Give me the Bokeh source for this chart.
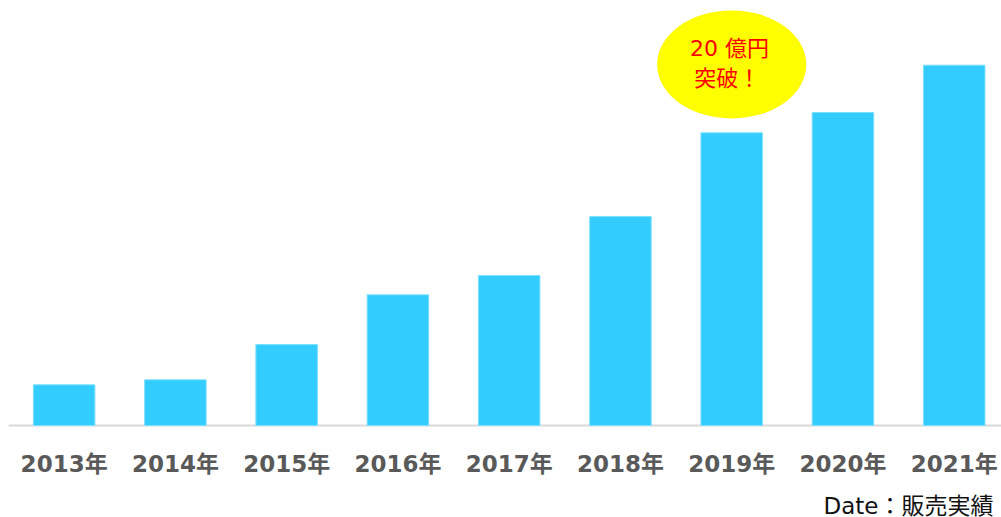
from bokeh.plotting import figure
from bokeh.models import Range1d, Label, ColumnDataSource, Span
from bokeh.core.properties import value
from bokeh.embed import file_html
from bokeh.resources import INLINE

# data (sales, 億円)
years = ["2013年", "2014年", "2015年", "2016年", "2017年", "2018年", "2019年", "2020年", "2021年"]
sales = [2.85, 3.2, 5.67, 9.15, 10.5, 14.64, 20.5, 21.92, 25.23]
callout_lines = ["20 億円", "突破！"]
callout_year = "2019年"
source_note = "Date：販売実績"

FONT = "'DejaVu Sans', 'Noto Sans CJK JP', sans-serif"

idx = list(range(len(years)))
src = ColumnDataSource(dict(x=idx, top=sales, label=years, base=[0] * len(years)))

p = figure(width=1001, height=517, output_backend="svg", toolbar_location=None,
           x_range=Range1d(-0.5, 8.425), y_range=Range1d(-6.44, 29.76),
           min_border_left=8, min_border_right=0, min_border_top=0, min_border_bottom=0)
p.outline_line_color = None
p.background_fill_color = "white"
p.border_fill_color = "white"
p.xgrid.visible = False
p.ygrid.visible = False
p.xaxis.visible = False
p.yaxis.visible = False

# baseline (category axis line)
p.add_layout(Span(location=0, dimension="width", line_color="#d9d9d9", line_width=2,
                  level="underlay"))

p.vbar(x="x", top="top", bottom="base", width=0.553, source=src, fill_color="#33CCFF",
       line_color="#7fdfff", line_width=1)

# category labels
p.text(x="x", y="base", text="label", source=src, y_offset=38, text_align="center",
       text_baseline="middle", text_color="#595959", text_font=value(FONT),
       text_font_style="bold", text_font_size="23px")

# callout bubble above the 2019 bar
ci = years.index(callout_year)
cy = sales[ci] + 4.78
p.ellipse(x=[ci], y=[cy], width=1.34, height=7.56, fill_color="#FFFF00", line_color=None)
p.add_layout(Label(x=ci - 0.02, y=cy + 1.14, text=callout_lines[0], text_align="center",
                   text_baseline="middle", text_color="#FF0000", text_font=FONT,
                   text_font_size="22px"))
p.add_layout(Label(x=ci - 0.04, y=cy - 0.96, text=callout_lines[1], text_align="center",
                   text_baseline="middle", text_color="#FF0000", text_font=FONT,
                   text_font_size="22px"))

p.add_layout(Label(x=985, y=12, x_units="screen", y_units="screen", text=source_note,
                   text_align="right", text_baseline="middle", text_color="#111111",
                   text_font=FONT, text_font_size="23px"))

open("out.html", "w").write(file_html(p, INLINE))
